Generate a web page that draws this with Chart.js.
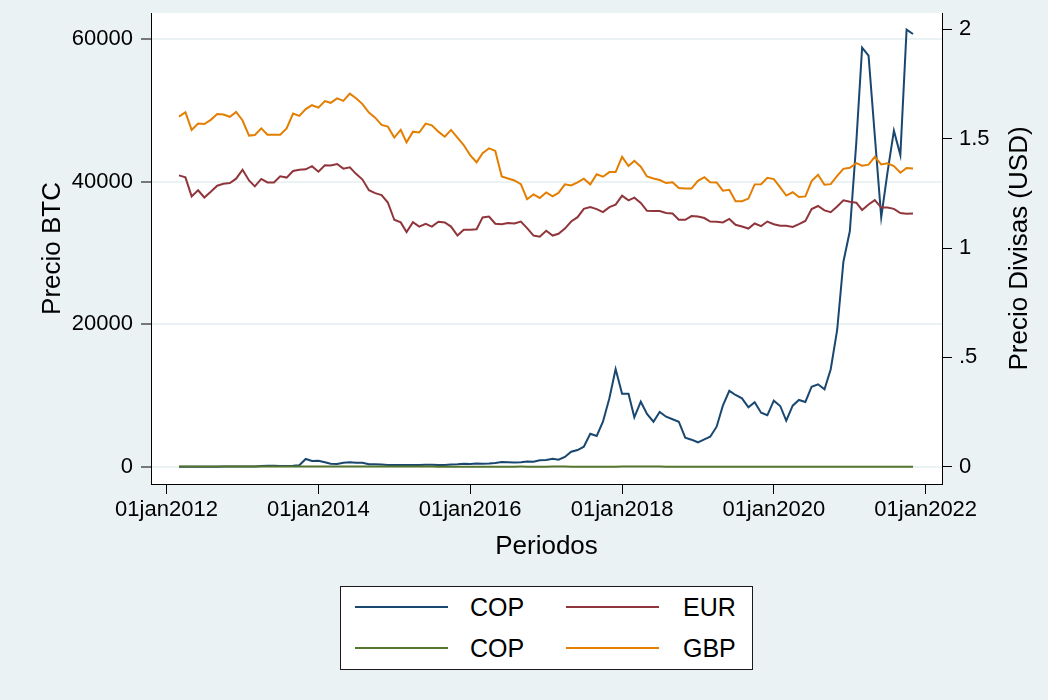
<!DOCTYPE html>
<html>
<head>
<meta charset="utf-8">
<script src="https://cdn.jsdelivr.net/npm/chart.js@4.4.1/dist/chart.umd.min.js"></script>
<style>
  html, body { margin: 0; padding: 0; background: #eaf2f3; }
  #wrap { position: relative; width: 1048px; height: 700px; }
  #legend { position: absolute; left: 340px; top: 586px; width: 411px; height: 82px;
            background: #fff; border: 1px solid #1a1a1a;
            font-family: "Liberation Sans", Arial, sans-serif; font-size: 25px; color: #000; }
  .swatch { position: absolute; width: 93px; height: 2px; }
  .lbl { position: absolute; height: 30px; line-height: 30px; white-space: nowrap; }
</style>
</head>
<body>
<div id="wrap">
  <canvas id="c" width="1048" height="700"></canvas>
  <div id="legend"></div>
</div>
<script>
// Monthly series, Mar 2012 .. Nov 2021 (117 points). BTC on the left axis, FX on the right.
const firstMonth = [2012, 2];           // year, zero-based month (March)
const seriesLabels = ["COP", "EUR", "COP", "GBP"];
const seriesColors = ["#1a476f", "#90353b", "#55752f", "#e37e00"];

const btc = [
  5, 5, 5, 6.5, 7, 9, 10, 12, 11, 13,
  14, 20, 34, 95, 140, 128, 97, 105, 140, 200,
  1080, 800, 840, 620, 420, 380, 560, 620, 560, 560,
  340, 340, 300, 240, 230, 250, 245, 235, 225, 260,
  280, 230, 237, 325, 360, 430, 370, 435, 415, 450,
  535, 675, 625, 575, 610, 730, 700, 900, 950, 1127,
  987, 1362, 2108, 2340, 2808, 4633, 4310, 6318, 9600, 13717,
  10250, 10250, 6930, 9126, 7399, 6318, 7680, 7020, 6655, 6318,
  4072, 3791, 3425, 3847, 4212, 5616, 8564, 10650, 10067, 9600,
  8340, 9042, 7582, 7216, 9266, 8522, 6458, 8564, 9365, 9084,
  11232, 11569, 10867, 13675, 19193, 28780, 33090, 45500, 58830, 57700,
  46500, 35020, 41280, 47170, 43760, 61360, 60750
];
const eur = [
  1.332, 1.323, 1.236, 1.264, 1.231, 1.257, 1.285, 1.294, 1.297, 1.317,
  1.358, 1.309, 1.282, 1.316, 1.300, 1.300, 1.328, 1.322, 1.352, 1.358,
  1.360, 1.374, 1.349, 1.378, 1.377, 1.384, 1.363, 1.369, 1.339, 1.313,
  1.264, 1.251, 1.242, 1.208, 1.129, 1.117, 1.073, 1.118, 1.098, 1.111,
  1.098, 1.120, 1.117, 1.098, 1.057, 1.083, 1.083, 1.086, 1.140, 1.144,
  1.111, 1.109, 1.114, 1.112, 1.121, 1.091, 1.057, 1.052, 1.079, 1.057,
  1.065, 1.089, 1.121, 1.141, 1.179, 1.187, 1.178, 1.164, 1.187, 1.198,
  1.239, 1.218, 1.230, 1.206, 1.170, 1.169, 1.169, 1.160, 1.158, 1.129,
  1.129, 1.146, 1.144, 1.137, 1.121, 1.120, 1.117, 1.133, 1.106, 1.098,
  1.089, 1.112, 1.100, 1.121, 1.109, 1.102, 1.102, 1.096, 1.109, 1.124,
  1.178, 1.192, 1.172, 1.164, 1.190, 1.218, 1.212, 1.207, 1.174, 1.199,
  1.219, 1.185, 1.185, 1.179, 1.160, 1.157, 1.158
];
const copUsd = [
  0.00056, 0.00056, 0.00056, 0.00054, 0.00056, 0.00055, 0.00055, 0.00055, 0.00055, 0.00057,
  0.00056, 0.00055, 0.00055, 0.00055, 0.00054, 0.00052, 0.00052, 0.00052, 0.00052, 0.00053, 0.00052, 0.00052,
  0.00050, 0.00050, 0.00050, 0.00051, 0.00052, 0.00053, 0.00054, 0.00052, 0.00050, 0.00048, 0.00045, 0.00043,
  0.00042, 0.00040, 0.00038, 0.00039, 0.00041, 0.00039, 0.00035, 0.00033, 0.00032, 0.00034, 0.00033, 0.00031,
  0.00030, 0.00029, 0.00032, 0.00033, 0.00033, 0.00034, 0.00034, 0.00034, 0.00035, 0.00033, 0.00032, 0.00033,
  0.00034, 0.00035, 0.00035, 0.00035, 0.00034, 0.00033, 0.00033, 0.00034, 0.00034, 0.00033, 0.00033, 0.00033,
  0.00035, 0.00035, 0.00036, 0.00036, 0.00035, 0.00035, 0.00035, 0.00033, 0.00033, 0.00032, 0.00031, 0.00031,
  0.00031, 0.00032, 0.00032, 0.00031, 0.00030, 0.00031, 0.00031, 0.00029, 0.00029, 0.00029, 0.00029, 0.00029,
  0.00030, 0.00029, 0.00025, 0.00025, 0.00026, 0.00027, 0.00027, 0.00026, 0.00026, 0.00026, 0.00027, 0.00029,
  0.00029, 0.00028, 0.00027, 0.00027, 0.00027, 0.00027, 0.00026, 0.00026, 0.00026, 0.00026, 0.00027
];
const gbp = [
  1.601, 1.621, 1.540, 1.569, 1.567, 1.586, 1.613, 1.610, 1.600, 1.622,
  1.583, 1.514, 1.517, 1.547, 1.518, 1.518, 1.518, 1.547, 1.615, 1.604,
  1.635, 1.653, 1.642, 1.672, 1.664, 1.684, 1.673, 1.706, 1.685, 1.658,
  1.619, 1.596, 1.563, 1.555, 1.505, 1.540, 1.483, 1.532, 1.528, 1.569,
  1.561, 1.532, 1.509, 1.540, 1.505, 1.471, 1.425, 1.392, 1.433, 1.456,
  1.444, 1.327, 1.318, 1.309, 1.292, 1.223, 1.245, 1.229, 1.254, 1.236,
  1.252, 1.291, 1.286, 1.300, 1.317, 1.291, 1.337, 1.326, 1.347, 1.347,
  1.417, 1.375, 1.399, 1.372, 1.327, 1.318, 1.311, 1.297, 1.301, 1.274,
  1.272, 1.272, 1.307, 1.324, 1.301, 1.300, 1.262, 1.266, 1.214, 1.214,
  1.226, 1.291, 1.292, 1.321, 1.315, 1.277, 1.240, 1.255, 1.233, 1.236,
  1.306, 1.335, 1.289, 1.292, 1.330, 1.362, 1.367, 1.388, 1.376, 1.381,
  1.417, 1.382, 1.387, 1.375, 1.344, 1.366, 1.364
];

const xTickYears = [2012, 2014, 2016, 2018, 2020, 2022];
const btcTicks = [0, 20000, 40000, 60000];
const fxTicks = [0, 0.5, 1, 1.5, 2];
const fxTickLabels = ["0", ".5", "1", "1.5", "2"];
const titleLeft = "Precio BTC";
const titleRight = "Precio Divisas (USD)";
const titleBottom = "Periodos";

const FONT = '"Liberation Sans", Arial, sans-serif';
const DAY = 86400000;
const origin = Date.UTC(2012, 0, 1);
const dayOf = (y, m) => (Date.UTC(y, m, 1) - origin) / DAY;
const months = btc.map((_, i) => dayOf(firstMonth[0], firstMonth[1] + i));
const pts = vals => vals.map((v, i) => ({ x: months[i], y: v }));

// later series drawn on top, like Stata does
function line(i, data, axis) {
  return { label: seriesLabels[i], data: pts(data), yAxisID: axis, order: 3 - i,
           borderColor: seriesColors[i], backgroundColor: seriesColors[i],
           borderWidth: 2, pointRadius: 0, tension: 0, fill: false };
}

// white plot region + the right-hand title (Stata reads it bottom-to-top)
const frame = {
  id: "frame",
  beforeDraw(chart) {
    const { ctx, chartArea: a } = chart;
    ctx.save();
    ctx.fillStyle = "#eaf2f3";
    ctx.fillRect(0, 0, chart.width, chart.height);
    ctx.fillStyle = "#ffffff";
    ctx.fillRect(a.left, a.top, a.right - a.left, a.bottom - a.top);
    ctx.restore();
  },
  afterDraw(chart) {
    const { ctx, chartArea: a } = chart;
    ctx.save();
    ctx.translate(1020, (a.top + a.bottom) / 2);
    ctx.rotate(-Math.PI / 2);
    ctx.font = "26px " + FONT;
    ctx.fillStyle = "#000";
    ctx.textAlign = "center";
    ctx.textBaseline = "middle";
    ctx.fillText(titleRight, 0, 0);
    ctx.restore();
  }
};

const PAD = { left: 37, right: 12, top: 13, bottom: 138 };
const AREA = { left: 151, right: 942, top: 13, bottom: 484 };

// fixed axis boxes so the plot region lands where Stata put it
const fixV = w => s => { s.width = w; s.paddingTop = 0; s.paddingBottom = 0; };

new Chart(document.getElementById("c"), {
  type: "line",
  data: { datasets: [
    line(0, btc, "y"),
    line(1, eur, "y1"),
    line(2, copUsd, "y1"),
    line(3, gbp, "y1"),
  ] },
  options: {
    responsive: false, animation: false,
    layout: { padding: PAD },
    plugins: { legend: { display: false }, tooltip: { enabled: false } },
    scales: {
      x: {
        type: "linear", min: -74.6, max: 3731.4,
        afterBuildTicks: s => { s.ticks = xTickYears.map(y => ({ value: dayOf(y, 0) })); },
        afterFit: s => { s.height = 700 - PAD.bottom - AREA.bottom; s.paddingLeft = 0; s.paddingRight = 0; },
        ticks: { color: "#000", font: { family: FONT, size: 22 }, padding: 3, maxRotation: 0,
                 autoSkip: false,
                 callback: v => "01jan" + new Date(origin + v * DAY).getUTCFullYear() },
        grid: { drawOnChartArea: false, tickLength: 10, tickColor: "#000", tickWidth: 1 },
        border: { color: "#000", width: 1 },
        title: { display: true, text: titleBottom, color: "#000",
                 font: { family: FONT, size: 26 }, padding: 0 },
      },
      y: {
        position: "left", min: -2429, max: 63692,
        afterBuildTicks: s => { s.ticks = btcTicks.map(v => ({ value: v })); },
        afterFit: fixV(AREA.left - PAD.left),
        ticks: { color: "#000", font: { family: FONT, size: 22 }, padding: 8,
                 callback: v => String(v) },
        grid: { color: "#eaf2f3", lineWidth: 2, tickLength: 10, tickColor: "#000", tickWidth: 1 },
        border: { color: "#000", width: 1 },
        title: { display: true, text: titleLeft, color: "#000",
                 font: { family: FONT, size: 26 }, padding: 0 },
      },
      y1: {
        position: "right", min: -0.0791, max: 2.0746,
        afterBuildTicks: s => { s.ticks = fxTicks.map(v => ({ value: v })); },
        afterFit: fixV(1048 - PAD.right - AREA.right),
        ticks: { color: "#000", font: { family: FONT, size: 22 }, padding: 7,
                 callback: v => fxTickLabels[fxTicks.indexOf(v)] },
        grid: { drawOnChartArea: false, tickLength: 10, tickColor: "#000", tickWidth: 1 },
        border: { color: "#000", width: 1 },
      },
    },
  },
  plugins: [frame],
});

// Stata-style two-column legend box under the plot
const legendPos = [[0, 0], [1, 0], [0, 1], [1, 1]];
const legend = document.getElementById("legend");
seriesLabels.forEach((name, i) => {
  const [col, row] = legendPos[i];
  const cy = row === 0 ? 20 : 61;
  const sw = document.createElement("div");
  sw.className = "swatch";
  sw.style.left = (col === 0 ? 14 : 225) + "px";
  sw.style.top = (cy - 1) + "px";
  sw.style.background = seriesColors[i];
  const tx = document.createElement("div");
  tx.className = "lbl";
  tx.style.left = (col === 0 ? 129 : 342) + "px";
  tx.style.top = (cy - 15) + "px";
  tx.textContent = name;
  legend.appendChild(sw);
  legend.appendChild(tx);
});
</script>
</body>
</html>
